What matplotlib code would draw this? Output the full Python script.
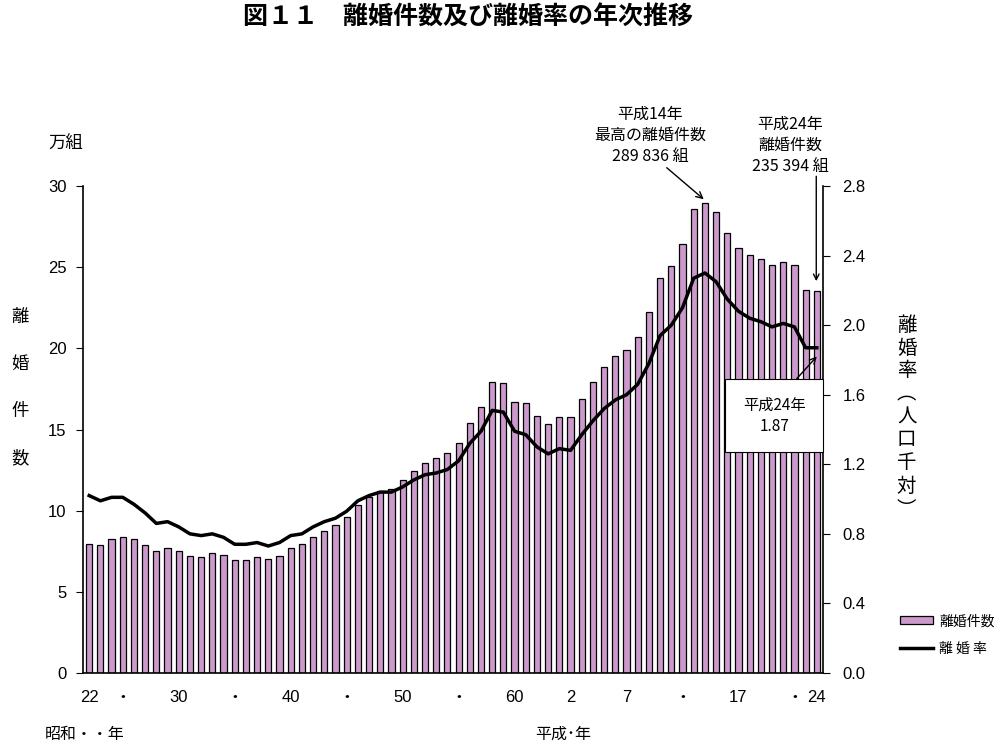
import matplotlib
matplotlib.use("Agg")
import matplotlib.pyplot as plt
import numpy as np

plt.rcParams['font.family'] = ['Noto Sans CJK JP', 'DejaVu Sans']

# 昭和22年(1947) - 平成24年(2012)
years = list(range(1947, 2013))
divorces = [79551, 79032, 82575, 83689, 82331, 79021, 75255, 76759, 75267, 72040,
            71651, 74004, 72455, 69410, 69323, 71394, 69996, 72306, 77195, 79432,
            83478, 87327, 91280, 95937, 103595, 108382, 111877, 113622, 119135, 124512,
            129485, 132146, 135250, 141689, 154221, 163980, 179150, 178746, 166640, 166054,
            158227, 153600, 157811, 157608, 168969, 179191, 188297, 195106, 199016, 206955,
            222635, 243183, 250529, 264246, 285911, 289836, 283854, 270804, 261917, 257475,
            254832, 251136, 253353, 251378, 235719, 235394]
rate = [1.02, 0.99, 1.01, 1.01, 0.97, 0.92, 0.86, 0.87, 0.84, 0.80,
        0.79, 0.80, 0.78, 0.74, 0.74, 0.75, 0.73, 0.75, 0.79, 0.80,
        0.84, 0.87, 0.89, 0.93, 0.99, 1.02, 1.04, 1.04, 1.07, 1.11,
        1.14, 1.15, 1.17, 1.22, 1.32, 1.39, 1.51, 1.50, 1.39, 1.37,
        1.30, 1.26, 1.29, 1.28, 1.37, 1.45, 1.52, 1.57, 1.60, 1.66,
        1.78, 1.94, 2.00, 2.10, 2.27, 2.30, 2.25, 2.15, 2.08, 2.04,
        2.02, 1.99, 2.01, 1.99, 1.87, 1.87]

tick_years = [1947, 1950, 1955, 1960, 1965, 1970, 1975, 1980, 1985, 1990, 1995, 2000, 2005, 2010, 2012]
tick_labels = ["22", "・", "30", "・", "40", "・", "50", "・", "60", "2", "7", "・", "17", "・", "24"]

numfont = ['Liberation Sans', 'Noto Sans CJK JP']

fig = plt.figure(figsize=(10.04, 7.48), dpi=100)
ax = fig.add_axes([0.0827, 0.1003, 0.737, 0.651])
ax2 = ax.twinx()

man = np.array(divorces) / 10000
bars = ax.bar(years, man, width=0.55, color="#CC99CC", edgecolor="black", linewidth=0.9,
              label="離婚件数")
line, = ax2.plot(years, rate, color="black", linewidth=2.5, label="離 婚 率")

ax.set_xlim(1946.45, 2012.55)
ax.set_ylim(0, 30)
ax.set_yticks(range(0, 31, 5))
ax2.set_ylim(0, 2.8)
ax2.set_yticks(np.arange(0, 2.81, 0.4))
ax2.set_yticklabels([f"{v:.1f}" for v in np.arange(0, 2.81, 0.4)])

ax.set_xticks(tick_years)
ax.set_xticklabels(tick_labels)
ax.tick_params(axis="x", length=0, pad=12, labelsize=12)
ax.tick_params(axis="y", direction="out", length=5, labelsize=12, pad=7)
ax2.tick_params(axis="y", direction="out", length=5, labelsize=12, pad=9)
for lab in ax.get_xticklabels() + ax.get_yticklabels() + ax2.get_yticklabels():
    lab.set_family(numfont)

for s in ["top", "right"]:
    ax.spines[s].set_visible(False)
for s in ["top", "left", "bottom"]:
    ax2.spines[s].set_visible(False)
for a in (ax, ax2):
    for s in a.spines.values():
        s.set_linewidth(1.2)

fig.text(0.466, 0.976, "図１１　離婚件数及び離婚率の年次推移", ha="center", va="center",
         fontsize=18, fontweight="bold")
fig.text(0.065, 0.808, "万組", ha="center", va="center", fontsize=12.5)
for i, ch in enumerate("離婚件数"):
    fig.text(0.02, 1 - (317 + i * 47) / 748, ch, ha="center", va="center", fontsize=12.5)
for i, ch in enumerate("離婚率︵人口千対︶"):
    fig.text(0.903, 1 - (325 + i * 23) / 748, ch, ha="center", va="center", fontsize=14)
fig.text(0.045, 0.018, "昭和・・年", ha="left", va="center", fontsize=11.5)
fig.text(0.533, 0.018, "平成･年", ha="left", va="center", fontsize=11.5)

ax.annotate("平成14年\n最高の離婚件数\n289 836 組", xy=(2001.9, divorces[55] / 10000 + 0.2),
            xytext=(1997.1, 31.3), ha="center", va="bottom", fontsize=11.5, linespacing=1.3,
            annotation_clip=False,
            arrowprops=dict(arrowstyle="->", color="black", lw=1, shrinkA=0, shrinkB=0,
                            relpos=(0.62, 0.0)))
ax.text(2009.6, 30.7, "平成24年\n離婚件数\n235 394 組", ha="center", va="bottom",
        fontsize=11.5, linespacing=1.3)
ax.annotate("", xy=(2011.95, divorces[65] / 10000 + 0.6), xytext=(2011.95, 30.6),
            annotation_clip=False,
            arrowprops=dict(arrowstyle="->", color="black", lw=1, shrinkA=0, shrinkB=0))
ax2.annotate("平成24年\n1.87", xy=(2012, rate[65] - 0.05), xytext=(2008.2, 1.48),
             ha="center", va="center", fontsize=11, linespacing=1.3,
             bbox=dict(boxstyle="square,pad=1.15", fc="white", ec="black", lw=0.8),
             arrowprops=dict(arrowstyle="->", color="black", lw=1, shrinkA=0, shrinkB=0,
                             relpos=(0.6, 1.0)))

fig.legend(handles=[bars, line], labels=["離婚件数", "離 婚 率"], loc="center left",
           bbox_to_anchor=(0.891, 0.151), frameon=False, fontsize=10, handlelength=2.4,
           handleheight=0.55, handletextpad=0.4, labelspacing=1.0, borderaxespad=0)

fig.savefig("out.png", dpi=100)
